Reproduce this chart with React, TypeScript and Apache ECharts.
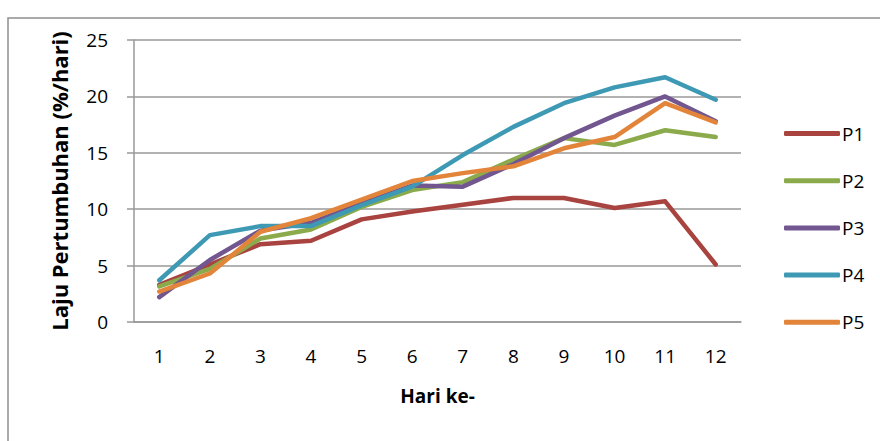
import React, { useEffect, useRef } from "react";
import * as echarts from "echarts";

const categories = ["1", "2", "3", "4", "5", "6", "7", "8", "9", "10", "11", "12"];
const P1 = [3.3, 5.1, 6.9, 7.2, 9.1, 9.8, 10.4, 11.0, 11.0, 10.1, 10.7, 5.1];
const P2 = [3.15, 4.7, 7.4, 8.2, 10.2, 11.7, 12.4, 14.4, 16.3, 15.7, 17.0, 16.4];
const P3 = [2.2, 5.5, 8.1, 8.8, 10.5, 12.1, 12.0, 14.0, 16.3, 18.3, 20.0, 17.8];
const P4 = [3.7, 7.7, 8.5, 8.5, 10.35, 12.0, 14.8, 17.3, 19.4, 20.8, 21.7, 19.7];
const P5 = [2.7, 4.3, 8.0, 9.2, 10.85, 12.5, 13.2, 13.8, 15.4, 16.4, 19.4, 17.7];
const seriesNames = ["P1", "P2", "P3", "P4", "P5"];
const seriesData = [P1, P2, P3, P4, P5];
const colors = ["#A9433F", "#8BAA4B", "#71568F", "#3E9AB4", "#E2843A"];
const yTicks = [0, 5, 10, 15, 20, 25];

const FONT = "'Open Sans', 'Noto Sans', sans-serif";

export default function App() {
  const ref = useRef<HTMLDivElement>(null);
  useEffect(() => {
    if (!ref.current) return;
    const chart = echarts.init(ref.current, undefined, { renderer: "svg" });
    chart.setOption({
      animation: false,
      backgroundColor: "#ffffff",
      color: colors,
      textStyle: { fontFamily: FONT },
      graphic: [
        {
          type: "rect",
          shape: { x: 8, y: 18, width: 1000, height: 600 },
          style: { fill: "none", stroke: "#8f8f8f", lineWidth: 1.5 },
          silent: true,
        },
      ],
      grid: { left: 134, right: 139, top: 40, bottom: 119 },
      legend: {
        orient: "vertical",
        left: 779,
        top: 119,
        itemWidth: 56,
        itemHeight: 5,
        itemGap: 28.2,
        icon: "roundRect",
        textStyle: { fontFamily: FONT, fontSize: 19, color: "#000", padding: [0, 0, 0, -3] },
        data: seriesNames,
      },
      xAxis: {
        type: "category",
        data: categories,
        boundaryGap: true,
        name: "Hari ke-",
        nameLocation: "middle",
        nameGap: 64,
        nameTextStyle: { fontFamily: FONT, fontSize: 19, fontWeight: "bold", color: "#000" },
        axisLine: { lineStyle: { color: "#999", width: 1.5 } },
        axisTick: { show: false },
        axisLabel: { margin: 24, fontFamily: FONT, fontSize: 19, color: "#000" },
        splitLine: { show: false },
      },
      yAxis: {
        type: "value",
        min: 0,
        max: 25,
        interval: 5,
        name: "Laju Pertumbuhan (%/hari)",
        nameLocation: "middle",
        nameGap: 64,
        nameTextStyle: { fontFamily: FONT, fontSize: 22, fontWeight: "bold", color: "#000" },
        axisLine: { show: true, lineStyle: { color: "#999", width: 1.5 } },
        axisTick: { show: true, inside: false, length: 7, lineStyle: { color: "#999", width: 1.5 } },
        axisLabel: {
          margin: 26,
          fontFamily: FONT,
          fontSize: 19,
          color: "#000",
          formatter: (v: number) => (yTicks.includes(v) ? String(v) : ""),
        },
        splitLine: { show: true, lineStyle: { color: "#999", width: 1.5 } },
      },
      series: seriesNames.map((name, i) => ({
        name,
        type: "line",
        data: seriesData[i],
        showSymbol: false,
        symbol: "none",
        lineStyle: { width: 4.5, color: colors[i], cap: "round", join: "round" },
        itemStyle: { color: colors[i] },
      })),
    });
    return () => chart.dispose();
  }, []);
  return (
    <div
      ref={ref}
      style={{ position: "fixed", left: 0, top: 0, width: 880, height: 441 }}
    />
  );
}
